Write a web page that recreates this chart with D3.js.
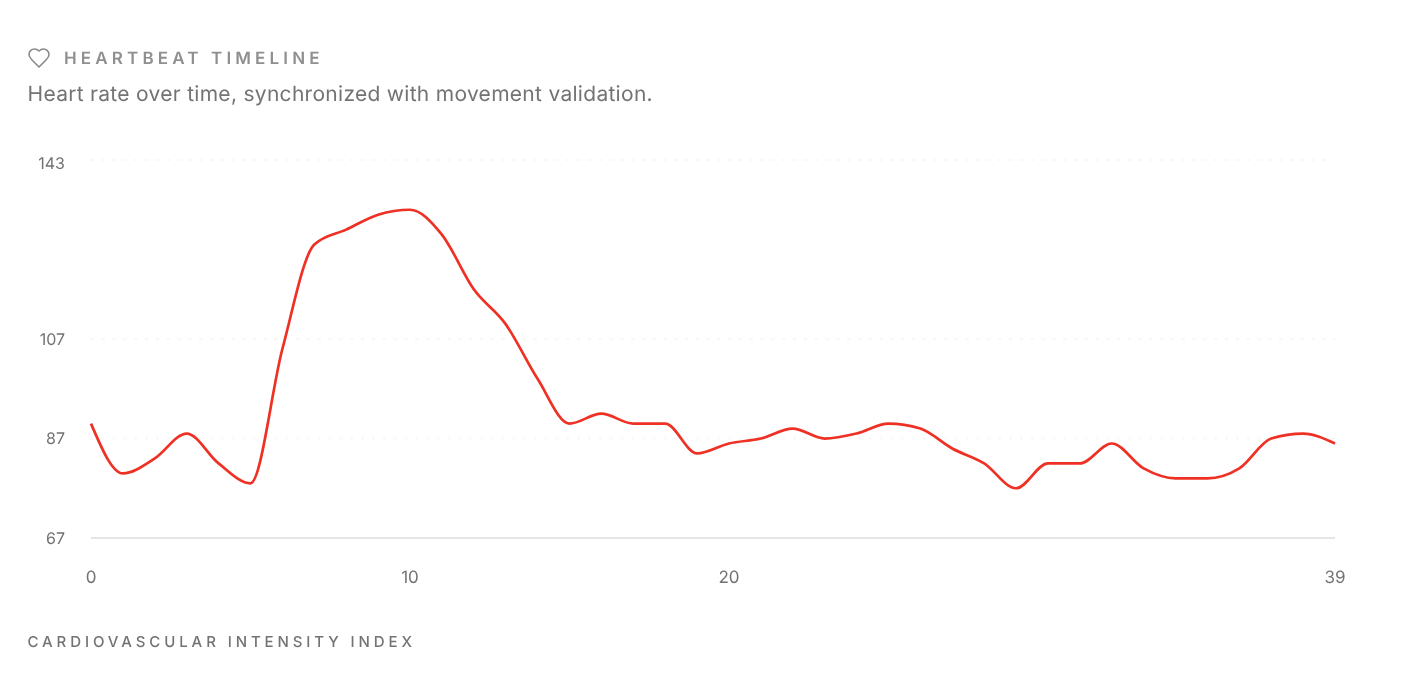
<!DOCTYPE html>
<html><head><meta charset="utf-8">
<script src="https://cdnjs.cloudflare.com/ajax/libs/d3/7.8.5/d3.min.js"></script>
<style>html,body{margin:0;background:#fff}svg{display:block;font-family:Inter,sans-serif;text-rendering:geometricPrecision;will-change:transform}</style>
</head><body><svg id="c" width="1416" height="688"></svg>
<script>
const title = "HEARTBEAT TIMELINE";
const subtitle = "Heart rate over time, synchronized with movement validation.";
const footer = "CARDIOVASCULAR INTENSITY INDEX";
const heartRate = [90,80,83,88,82,78,105,126,129,132,133,128,117,110,99,90,92,90,90,84,86,87,89,87,88,90,89,85,82,77,82,82,86,81,79,79,81,87,88,86];
const xTicks = [0,10,20,39];
const yTicks = [67,87,107,143];

const svg = d3.select("#c");
const x = d3.scaleLinear().domain([0,39]).range([91,1335]);
const y = d3.scaleLinear().domain([67,143]).range([538,160]);

const hg = svg.append("g").attr("transform","translate(27,46)");
hg.append("path")
  .attr("d","M19 14c1.49-1.46 3-3.21 3-5.5A5.5 5.5 0 0 0 16.5 3c-1.76 0-3 .5-4.5 2-1.5-1.5-2.74-2-4.5-2A5.5 5.5 0 0 0 2 8.5c0 2.3 1.5 4.05 3 5.5l7 7Z")
  .attr("fill","none").attr("stroke","#8a8a8a").attr("stroke-width",1.6).attr("stroke-linecap","round").attr("stroke-linejoin","round");

svg.append("text").attr("x",64).attr("y",64).attr("fill","#8f8f8f")
  .attr("font-size",17).attr("font-weight",600).attr("letter-spacing","4.15px").text(title);
svg.append("text").attr("x",27.5).attr("y",101).attr("fill","#737373")
  .attr("font-size",21).attr("letter-spacing","0.29px").text(subtitle);

svg.append("g").selectAll("line").data(yTicks.slice(1)).join("line")
  .attr("x1",x(0)).attr("x2",x(39)).attr("y1",d=>y(d)).attr("y2",d=>y(d))
  .attr("stroke","#f5f5f5").attr("stroke-width",1.5).attr("stroke-dasharray","3.2 7.6");

svg.append("line").attr("x1",x(0)).attr("x2",x(39)).attr("y1",y(67)).attr("y2",y(67))
  .attr("stroke","#e5e5e5").attr("stroke-width",2);

const yLabelShift = d => d === 143 ? 3 : d === 87 ? -1 : 0;
svg.append("g").selectAll("text").data(yTicks).join("text")
  .attr("x",65).attr("y",d=>y(d)+6+yLabelShift(d)).attr("text-anchor","end").attr("fill","#737373")
  .attr("font-size",16).text(d=>d);

svg.append("g").selectAll("text").data(xTicks).join("text")
  .attr("x",d=>x(d)).attr("y",583).attr("text-anchor","middle").attr("fill","#737373")
  .attr("font-size",17).text(d=>d);

const line = d3.line().x((d,i)=>x(i)).y(d=>y(d)).curve(d3.curveMonotoneX);
svg.append("path").datum(heartRate).attr("d",line).attr("fill","none")
  .attr("stroke","#ee3124").attr("stroke-width",2.7).attr("stroke-linejoin","round");

svg.append("text").attr("x",27.5).attr("y",647).attr("fill","#737373")
  .attr("font-size",15).attr("font-weight",500).attr("letter-spacing","3.9px").text(footer);
</script></body></html>
